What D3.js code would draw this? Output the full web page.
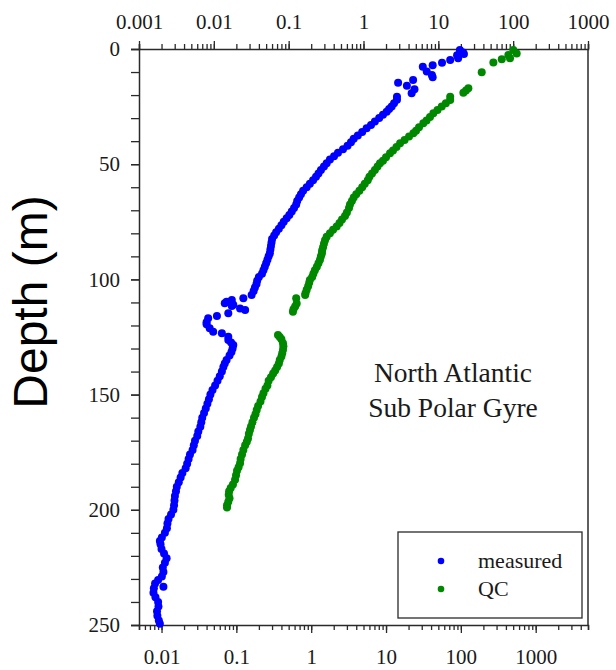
<!DOCTYPE html>
<html>
<head>
<meta charset="utf-8">
<script src="https://cdn.jsdelivr.net/npm/d3@7"></script>
<style>
  html, body { margin: 0; padding: 0; background: #fff; }
  svg { display: block; }
</style>
</head>
<body>
<div id="chart"></div>
<script>
// [depth (m), value], value on the bottom axis scale
const measured = [
  [0.4, 97], [1.5, 107], [2.2, 110], [2.7, 89], [4.0, 92], [4.8, 72], [6.0, 56], [7.0, 42],
  [7.7, 31], [9.8, 35], [11.3, 41], [12.3, 42], [13.5, 23], [14.6, 14.5], [16.0, 19], [17.5, 24],
  [19.2, 22], [20.7, 14],
  [22, 14], [23.5, 12.8], [25, 11.9], [26, 11], [27.2, 10.2], [28.5, 9.1], [30, 8.1], [31.5, 7.1],
  [33, 6.3], [34.4, 5.5], [36, 4.8], [37.5, 4.2], [39, 3.7], [40.5, 3.4], [42, 3.06], [43.5, 2.66],
  [45, 2.28], [46.5, 2.02], [48, 1.78], [49.6, 1.61], [51, 1.48], [52.5, 1.35], [54, 1.25], [55.5, 1.16],
  [57, 1.06], [58.5, 0.96], [60, 0.87], [61.5, 0.78], [63, 0.73], [64.5, 0.69], [66, 0.65], [67.5, 0.63],
  [69, 0.59], [70.5, 0.55], [72, 0.51], [73.5, 0.47], [75, 0.43], [76.5, 0.40], [78, 0.37], [79.5, 0.34],
  [81, 0.32], [82.5, 0.30], [84, 0.295], [85.5, 0.29], [87, 0.285], [88.7, 0.28], [90, 0.27], [91.5, 0.26],
  [93, 0.25], [94.5, 0.24], [96, 0.23], [97.5, 0.22], [99, 0.20], [100.5, 0.19], [102, 0.186], [103.5, 0.177],
  [105, 0.17], [106.8, 0.16],
  [108.2, 0.124], [108.9, 0.087], [109.7, 0.074], [110.4, 0.070], [111, 0.091], [111.5, 0.087],
  [112.6, 0.112], [113.3, 0.131], [114.7, 0.078], [115.9, 0.055], [116.9, 0.042], [118.6, 0.040],
  [119.5, 0.040], [121.2, 0.044], [122.7, 0.049], [123.4, 0.064], [124.9, 0.078], [126.3, 0.078],
  [127.4, 0.085],
  [128.5, 0.091], [130, 0.089], [131.5, 0.086], [133, 0.081], [135, 0.074], [136.5, 0.070], [138, 0.067],
  [140, 0.064], [142, 0.060], [144, 0.056], [146, 0.052], [148, 0.048], [150, 0.045], [152, 0.043],
  [154, 0.041], [156, 0.039], [158, 0.037], [160, 0.035], [162, 0.034], [164, 0.033], [166, 0.031],
  [168, 0.030], [170, 0.028], [172, 0.027], [174, 0.026], [176, 0.024], [178, 0.023], [180, 0.022],
  [182, 0.021], [184, 0.019], [186, 0.018], [188, 0.017], [190, 0.016], [192, 0.0156], [194, 0.0151],
  [196, 0.0149], [198, 0.0147], [200, 0.0144], [202, 0.0134], [204, 0.0124], [206, 0.012], [208, 0.0118],
  [210, 0.0111], [212, 0.0101], [213.5, 0.0095], [215, 0.0097], [217, 0.0100], [219, 0.0108], [221, 0.0117],
  [223, 0.0111], [225, 0.0104], [227, 0.0106], [229, 0.0101], [230.5, 0.0090], [232, 0.0082], [233.4, 0.0106],
  [234, 0.0079], [236, 0.0078], [238, 0.0083], [240, 0.0090], [242, 0.0091], [244, 0.0087], [246, 0.0088],
  [248, 0.0092], [249.5, 0.0095]
]

const qc = [
  [0.4, 502], [1.9, 557], [2.6, 431], [4.0, 454], [4.5, 352], [5.9, 272], [10.1, 190], [17, 126],
  [18, 117], [19, 108], [20.7, 72],
  [22.1, 72], [23.5, 63], [25, 55.5], [26.5, 48.7], [27.9, 42.9], [29.5, 38.7], [31, 34.8], [32.2, 31.5],
  [34, 27.6], [35.5, 25.2], [36.6, 23.2], [38, 20.3], [39.5, 17.7], [40.9, 15.4], [42.5, 13.8], [44, 12.4],
  [45.3, 11.3], [47, 10.0], [48.5, 9.1], [49.6, 8.3], [51, 7.7], [52.5, 7.1], [54, 6.5], [55.5, 6.0],
  [57, 5.7], [58.5, 5.2], [60, 4.8], [61.5, 4.4], [63, 4.0], [64.5, 3.7], [66, 3.5], [67.5, 3.3],
  [69, 3.2], [71, 3.0], [72.5, 2.83], [74, 2.58], [75.5, 2.39], [77, 2.19], [78.5, 1.96], [80, 1.78],
  [81.5, 1.61], [83, 1.53], [84.5, 1.48], [86, 1.44], [87.5, 1.40], [88.7, 1.39], [90, 1.35], [91.5, 1.31],
  [93, 1.25], [94.5, 1.19], [96, 1.12], [97.5, 1.07], [99, 1.03], [100.3, 0.96], [101.5, 0.94], [103, 0.91],
  [104.5, 0.87], [106, 0.84], [106.8, 0.83],
  [108.2, 0.63], [110.5, 0.64], [111.8, 0.61], [113, 0.58], [114, 0.57],
  [124.1, 0.36], [125, 0.38], [126, 0.40], [127.7, 0.42], [129, 0.425], [130.5, 0.42], [132, 0.41],
  [133.5, 0.40], [135, 0.38], [136.5, 0.37], [138, 0.35], [139.5, 0.33], [140.8, 0.31], [142.5, 0.29],
  [144, 0.27], [146, 0.26], [147.5, 0.245], [149.4, 0.23], [151, 0.22], [153, 0.21], [155, 0.195],
  [156.7, 0.187], [158.5, 0.18], [160, 0.172], [162, 0.164], [163.8, 0.157], [165.4, 0.152], [167, 0.147],
  [169, 0.143], [170.5, 0.138], [172, 0.131], [174, 0.124], [176, 0.119], [178, 0.114], [179.8, 0.112],
  [181.5, 0.107], [183, 0.102], [185, 0.099], [187, 0.096], [189, 0.090], [190.5, 0.084], [192, 0.080],
  [193.5, 0.079], [195, 0.081], [196.5, 0.078], [198, 0.075], [199, 0.075]
]

const topTicks = [0.001, 0.01, 0.1, 1, 10, 100, 1000]
const bottomTicks = [0.01, 0.1, 1, 10, 100, 1000]
const depthTicks = [0, 50, 100, 150, 200, 250]
const seriesNames = ["measured", "QC"]
const seriesColors = ["#0000ff", "#008800"]
const noteLines = ["North Atlantic", "Sub Polar Gyre"]

const width = 616
const height = 670
const margin = { top: 49, right: 28, bottom: 45, left: 139 }
const innerW = width - margin.left - margin.right
const innerH = height - margin.top - margin.bottom

const serif = "'Liberation Serif', 'Times New Roman', serif"
const axisColor = "#2a2a2a"
const dotR = 4

const xTop = d3.scaleLog().domain([0.001, 1000]).range([0, innerW])
const xBot = d3.scaleLog().domain([0.005, 5000]).range([0, innerW])
const y = d3.scaleLinear().domain([0, 250]).range([0, innerH])

// minor ticks 2..9 of every decade inside a log domain
const minorTicks = scale => {
  const [a, b] = scale.domain()
  const out = []
  for (let k = Math.floor(Math.log10(a)); k <= Math.ceil(Math.log10(b)); k++) {
    for (let m = 1; m <= 9; m++) {
      const v = m * Math.pow(10, k)
      if (v >= a * 0.999 && v <= b * 1.001) out.push(v)
    }
  }
  return out
}

const svg = d3.select("#chart").append("svg")
  .attr("width", width)
  .attr("height", height)

const g = svg.append("g")
  .attr("transform", `translate(${margin.left},${margin.top})`)

const styleAxis = sel => {
  sel.select(".domain").attr("stroke", axisColor).attr("stroke-width", 1.5)
  sel.selectAll(".tick line").attr("stroke", axisColor).attr("stroke-width", 1.3)
  sel.selectAll(".tick text")
    .attr("font-family", serif)
    .attr("font-size", 21)
    .attr("fill", "#1a1a1a")
}

// right frame line
g.append("line")
  .attr("x1", innerW).attr("x2", innerW)
  .attr("y1", 0).attr("y2", innerH)
  .attr("stroke", axisColor).attr("stroke-width", 1.5)

// top axis
g.append("g")
  .call(d3.axisTop(xTop).tickValues(minorTicks(xTop)).tickSize(5).tickFormat(""))
  .call(styleAxis)
g.append("g")
  .call(d3.axisTop(xTop).tickValues(topTicks).tickSize(8).tickPadding(12)
    .tickFormat(d => String(d)))
  .call(styleAxis)
  .call(s => s.select(".domain").remove())

// bottom axis
g.append("g")
  .attr("transform", `translate(0,${innerH})`)
  .call(d3.axisBottom(xBot).tickValues(minorTicks(xBot)).tickSize(5).tickFormat(""))
  .call(styleAxis)
g.append("g")
  .attr("transform", `translate(0,${innerH})`)
  .call(d3.axisBottom(xBot).tickValues(bottomTicks).tickSize(8).tickPadding(16)
    .tickFormat(d => String(d)))
  .call(styleAxis)
  .call(s => s.select(".domain").remove())

// left axis
g.append("g")
  .call(d3.axisLeft(y).tickValues(d3.range(0, 251, 10)).tickSize(8).tickFormat(""))
  .call(styleAxis)
g.append("g")
  .call(d3.axisLeft(y).tickValues(depthTicks).tickSize(8).tickPadding(11))
  .call(styleAxis)
  .call(s => s.select(".domain").remove())

// points
;[measured, qc].forEach((data, i) => {
  g.append("g")
    .selectAll("circle")
    .data(data)
    .join("circle")
    .attr("cx", d => xBot(d[1]))
    .attr("cy", d => y(d[0]))
    .attr("r", dotR)
    .attr("fill", seriesColors[i])
})

// annotation
g.append("text")
  .attr("text-anchor", "middle")
  .attr("font-family", serif)
  .attr("font-size", 27.5)
  .attr("fill", "#1a1a1a")
  .selectAll("tspan")
  .data(noteLines)
  .join("tspan")
  .attr("x", 453 - margin.left)
  .attr("y", (d, i) => 382 - margin.top + i * 35)
  .text(d => d)

// legend
const legend = g.append("g")
  .attr("transform", `translate(${398 - margin.left},${532 - margin.top})`)
legend.append("rect")
  .attr("width", 184)
  .attr("height", 86)
  .attr("fill", "#fff")
  .attr("stroke", axisColor)
  .attr("stroke-width", 1.3)
seriesNames.forEach((name, i) => {
  legend.append("circle")
    .attr("cx", 43)
    .attr("cy", 29 + i * 28)
    .attr("r", 3.3)
    .attr("fill", seriesColors[i])
  legend.append("text")
    .attr("x", 80)
    .attr("y", 36 + i * 28)
    .attr("font-family", serif)
    .attr("font-size", 22)
    .attr("fill", "#1a1a1a")
    .text(name)
})

// y label
svg.append("text")
  .attr("transform", `translate(47,302) rotate(-90)`)
  .attr("text-anchor", "middle")
  .attr("font-family", "'Liberation Sans', Arial, sans-serif")
  .attr("font-size", 48)
  .attr("fill", "#000")
  .text("Depth (m)")
</script>
</body>
</html>
